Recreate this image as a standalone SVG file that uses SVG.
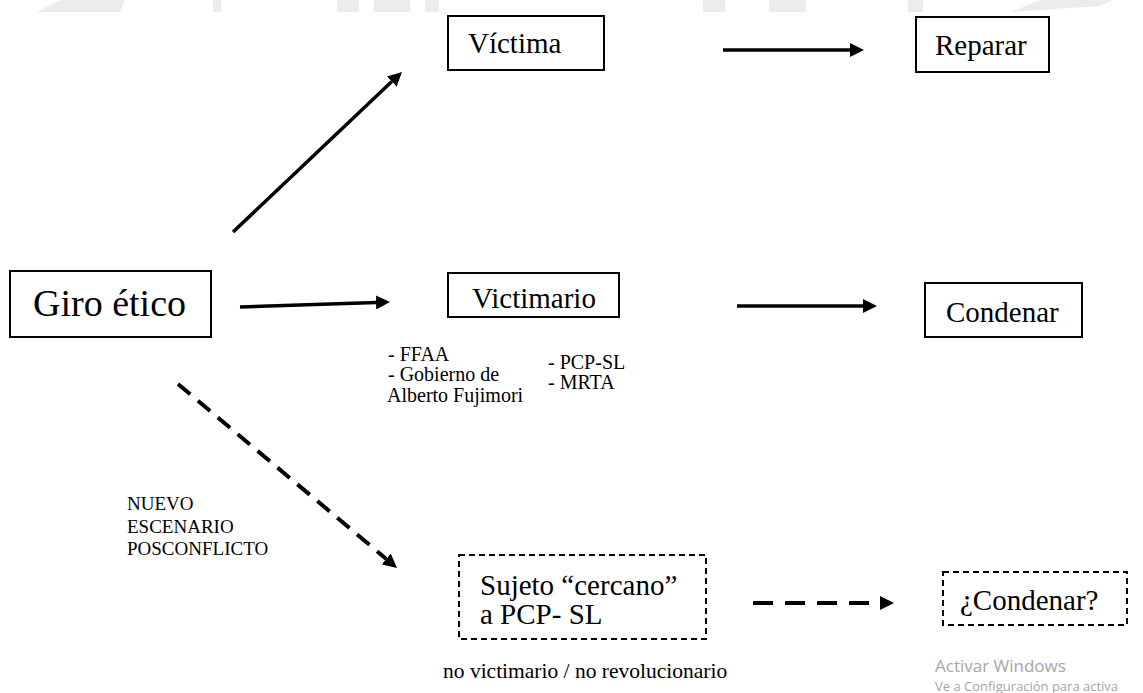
<svg xmlns="http://www.w3.org/2000/svg" width="1143" height="693" viewBox="0 0 1143 693">
<style>
.box{fill:#fff;stroke:#000;stroke-width:2}
.dbox{fill:#fff;stroke:#000;stroke-width:2;stroke-dasharray:6 4}
.t{font-family:'Liberation Serif','Tinos','Noto Serif','DejaVu Serif','Times New Roman',serif;fill:#000}
.big{font-size:29px}
.small{font-size:20px}
.caps{font-size:19px}
.ln{stroke:#000;stroke-width:3.5;fill:none}
.dl{stroke:#000;stroke-width:4;fill:none}
.wm{fill:#ececec}
.win{font-family:'Open Sans','Noto Sans',sans-serif;fill:#a6a6a6}
</style>
<defs>
<marker id="ah" viewBox="0 0 14 14" refX="0" refY="7" markerWidth="14" markerHeight="14" markerUnits="userSpaceOnUse" orient="auto">
<path d="M0,0 L14,7 L0,14 Z" fill="#000"/>
</marker>
</defs>
<rect width="1143" height="693" fill="#fff"/>
<g id="watermark">
<polygon class="wm" points="37,12 60,0 125,0 120,12"/>
<rect class="wm" x="213" y="0" width="8" height="12"/>
<rect class="wm" x="337" y="0" width="22" height="12"/>
<rect class="wm" x="374" y="0" width="36" height="12"/>
<rect class="wm" x="425" y="0" width="14" height="12"/>
<rect class="wm" x="703" y="0" width="22" height="12"/>
<rect class="wm" x="769" y="0" width="37" height="12"/>
<rect class="wm" x="908" y="0" width="15" height="12"/>
<polygon class="wm" points="1011,12 1040,0 1113,0 1100,6"/>
</g>
<g id="connectors">
<line class="ln" x1="233" y1="232" x2="391.8" y2="81.6" marker-end="url(#ah)"/>
<line class="ln" x1="240" y1="307" x2="376" y2="302.5" marker-end="url(#ah)"/>
<line class="ln" x1="723" y1="50" x2="850" y2="50" marker-end="url(#ah)"/>
<line class="ln" x1="737" y1="306" x2="863" y2="306" marker-end="url(#ah)"/>
<line class="dl" x1="178" y1="384" x2="386.3" y2="559" stroke-dasharray="16 10" marker-end="url(#ah)"/>
<line class="dl" x1="753" y1="603" x2="880" y2="603" stroke-dasharray="20 12" marker-end="url(#ah)"/>
</g>
<g id="giro">
<rect class="box" x="10" y="271" width="201" height="66"/>
<text class="t" x="33" y="316" font-size="38">Giro ético</text>
</g>
<g id="victima">
<rect class="box" x="448" y="16" width="156" height="54"/>
<text class="t big" x="468" y="53">Víctima</text>
</g>
<g id="reparar">
<rect class="box" x="916" y="17" width="133" height="55"/>
<text class="t big" x="935" y="55">Reparar</text>
</g>
<g id="victimario">
<rect class="box" x="448" y="273" width="171" height="44"/>
<text class="t big" x="472" y="308">Victimario</text>
</g>
<g id="condenar">
<rect class="box" x="925" y="283" width="157" height="54"/>
<text class="t big" x="946" y="322">Condenar</text>
</g>
<g id="victimario-notes">
<text class="t small" x="388" y="361">- FFAA</text>
<text class="t small" x="388" y="381">- Gobierno de</text>
<text class="t small" x="387" y="402">Alberto Fujimori</text>
<text class="t small" x="548" y="369">- PCP-SL</text>
<text class="t small" x="548" y="389">- MRTA</text>
</g>
<g id="escenario-label">
<text class="t caps" x="127" y="510">NUEVO</text>
<text class="t caps" x="127" y="533">ESCENARIO</text>
<text class="t caps" x="127" y="555">POSCONFLICTO</text>
</g>
<g id="sujeto">
<rect class="dbox" x="459" y="555" width="247" height="84"/>
<text class="t big" x="480" y="595">Sujeto “cercano”</text>
<text class="t big" x="480" y="624">a PCP- SL</text>
<text class="t" x="443" y="678" font-size="21.5">no victimario / no revolucionario</text>
</g>
<g id="condenar-q">
<rect class="dbox" x="943" y="572" width="184" height="53"/>
<text class="t big" x="960" y="610">¿Condenar?</text>
</g>
<g id="windows-overlay">
<text class="win" x="935" y="672" font-size="17">Activar Windows</text>
<text class="win" x="935" y="691" font-size="13">Ve a Configuración para activa</text>
</g>
</svg>
